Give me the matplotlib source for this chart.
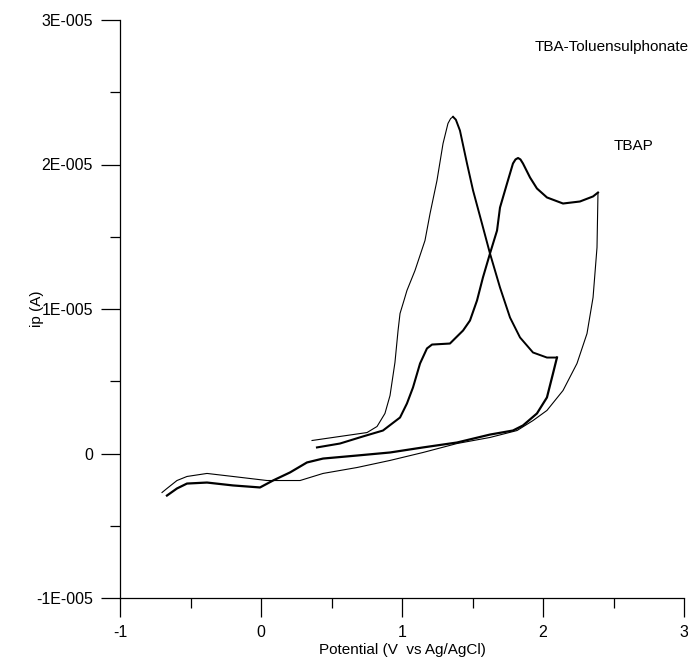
import matplotlib
matplotlib.use('Agg')
import matplotlib.pyplot as plt
from matplotlib.ticker import MultipleLocator, FixedLocator

plt.rcParams['font.family'] = ['Liberation Sans', 'DejaVu Sans']
plt.rcParams['axes.unicode_minus'] = False

# TBA-Toluensulphonate, anodic scan (V, 1E-005 A)
tol_fwd_x = [0.362, 0.560, 0.752, 0.823, 0.879, 0.915, 0.950, 0.972, 0.986, 1.014, 1.035,
             1.092, 1.163, 1.199, 1.248, 1.291, 1.326, 1.345, 1.362]
tol_fwd_y = [0.090, 0.118, 0.145, 0.187, 0.277, 0.401, 0.630, 0.851, 0.969, 1.059, 1.128,
             1.266, 1.474, 1.661, 1.889, 2.145, 2.284, 2.318, 2.330]
tol_tail_x = [1.362, 1.382, 1.411, 1.461, 1.504, 1.567, 1.624, 1.695, 1.766, 1.837, 1.929,
              2.028, 2.099]
tol_tail_y = [2.330, 2.310, 2.235, 2.007, 1.820, 1.592, 1.384, 1.149, 0.941, 0.803, 0.699,
              0.664, 0.664]
# cathodic scan
tol_rev_x = [2.099, 2.071, 2.028, 1.957, 1.858, 1.787, 1.624, 1.390, 1.149, 0.915, 0.681,
             0.440, 0.326, 0.206, 0.085, -0.007, -0.199, -0.383, -0.525, -0.596, -0.667]
tol_rev_y = [0.664, 0.554, 0.388, 0.277, 0.194, 0.159, 0.131, 0.076, 0.042, 0.007, -0.014,
             -0.035, -0.062, -0.131, -0.187, -0.235, -0.221, -0.201, -0.208, -0.242, -0.291]

# TBAP
tbap_fwd_x = [0.397, 0.560, 0.723, 0.865, 0.986, 1.035, 1.078, 1.128, 1.177, 1.213, 1.340,
              1.376, 1.433, 1.482, 1.532, 1.574, 1.624, 1.674, 1.695, 1.745, 1.787, 1.805,
              1.823, 1.840, 1.858, 1.908, 1.957, 2.028, 2.142, 2.262, 2.355, 2.390]
tbap_fwd_y = [0.042, 0.069, 0.118, 0.159, 0.249, 0.346, 0.457, 0.623, 0.727, 0.754, 0.761,
              0.796, 0.851, 0.920, 1.059, 1.218, 1.384, 1.543, 1.702, 1.869, 2.007, 2.035,
              2.045, 2.035, 2.007, 1.910, 1.834, 1.772, 1.730, 1.744, 1.779, 1.806]
tbap_rev_x = [2.390, 2.383, 2.355, 2.312, 2.241, 2.142, 2.028, 1.929, 1.816, 1.624, 1.390,
              1.149, 0.915, 0.681, 0.440, 0.277, 0.043, -0.078, -0.199, -0.383, -0.525,
              -0.596, -0.667, -0.702]
tbap_rev_y = [1.806, 1.426, 1.080, 0.830, 0.623, 0.436, 0.298, 0.228, 0.159, 0.111, 0.069,
              0.007, -0.048, -0.097, -0.138, -0.187, -0.187, -0.173, -0.159, -0.138, -0.159,
              -0.187, -0.242, -0.270]

ytick_vals = [-1, 0, 1, 2, 3]
ytick_labels = ['-1E-005', '0', '1E-005', '2E-005', '3E-005']
xtick_vals = [-1, 0, 1, 2, 3]


def s(v):
    return [a * 1e-5 for a in v]


fig = plt.figure(figsize=(6.88, 6.64), dpi=100)
ax = fig.add_axes([120 / 688, 66 / 664, 564 / 688, 578 / 664])

ax.plot(tol_fwd_x, s(tol_fwd_y), color='black', lw=0.8)
ax.plot(tol_tail_x, s(tol_tail_y), color='black', lw=1.4)
ax.plot(tol_rev_x, s(tol_rev_y), color='black', lw=1.6)
ax.plot(tbap_fwd_x, s(tbap_fwd_y), color='black', lw=1.5)
ax.plot(tbap_rev_x, s(tbap_rev_y), color='black', lw=0.8)

ax.set_xlim(-1, 3)
ax.set_ylim(-1e-5, 3e-5)
ax.xaxis.set_major_locator(FixedLocator(xtick_vals))
ax.xaxis.set_minor_locator(MultipleLocator(0.5))
ax.set_yticks(s(ytick_vals))
ax.set_yticklabels(ytick_labels)
ax.yaxis.set_minor_locator(MultipleLocator(0.5e-5))

for side in ['top', 'right']:
    ax.spines[side].set_visible(False)
for side in ['left', 'bottom']:
    ax.spines[side].set_linewidth(0.9)

ax.tick_params(which='major', direction='out', length=13.5, width=0.9, labelsize=11.5, pad=6)
ax.tick_params(which='minor', direction='out', length=7, width=0.9)

ax.set_xlabel('Potential (V  vs Ag/AgCl)', fontsize=11, labelpad=2)
ax.set_ylabel('ip (A)', fontsize=11, labelpad=-6)

ax.text(1.943, 2.81e-5, 'TBA-Toluensulphonate', fontsize=11, va='center')
ax.text(2.504, 2.13e-5, 'TBAP', fontsize=11, va='center')

plt.savefig('out.png', dpi=100)
